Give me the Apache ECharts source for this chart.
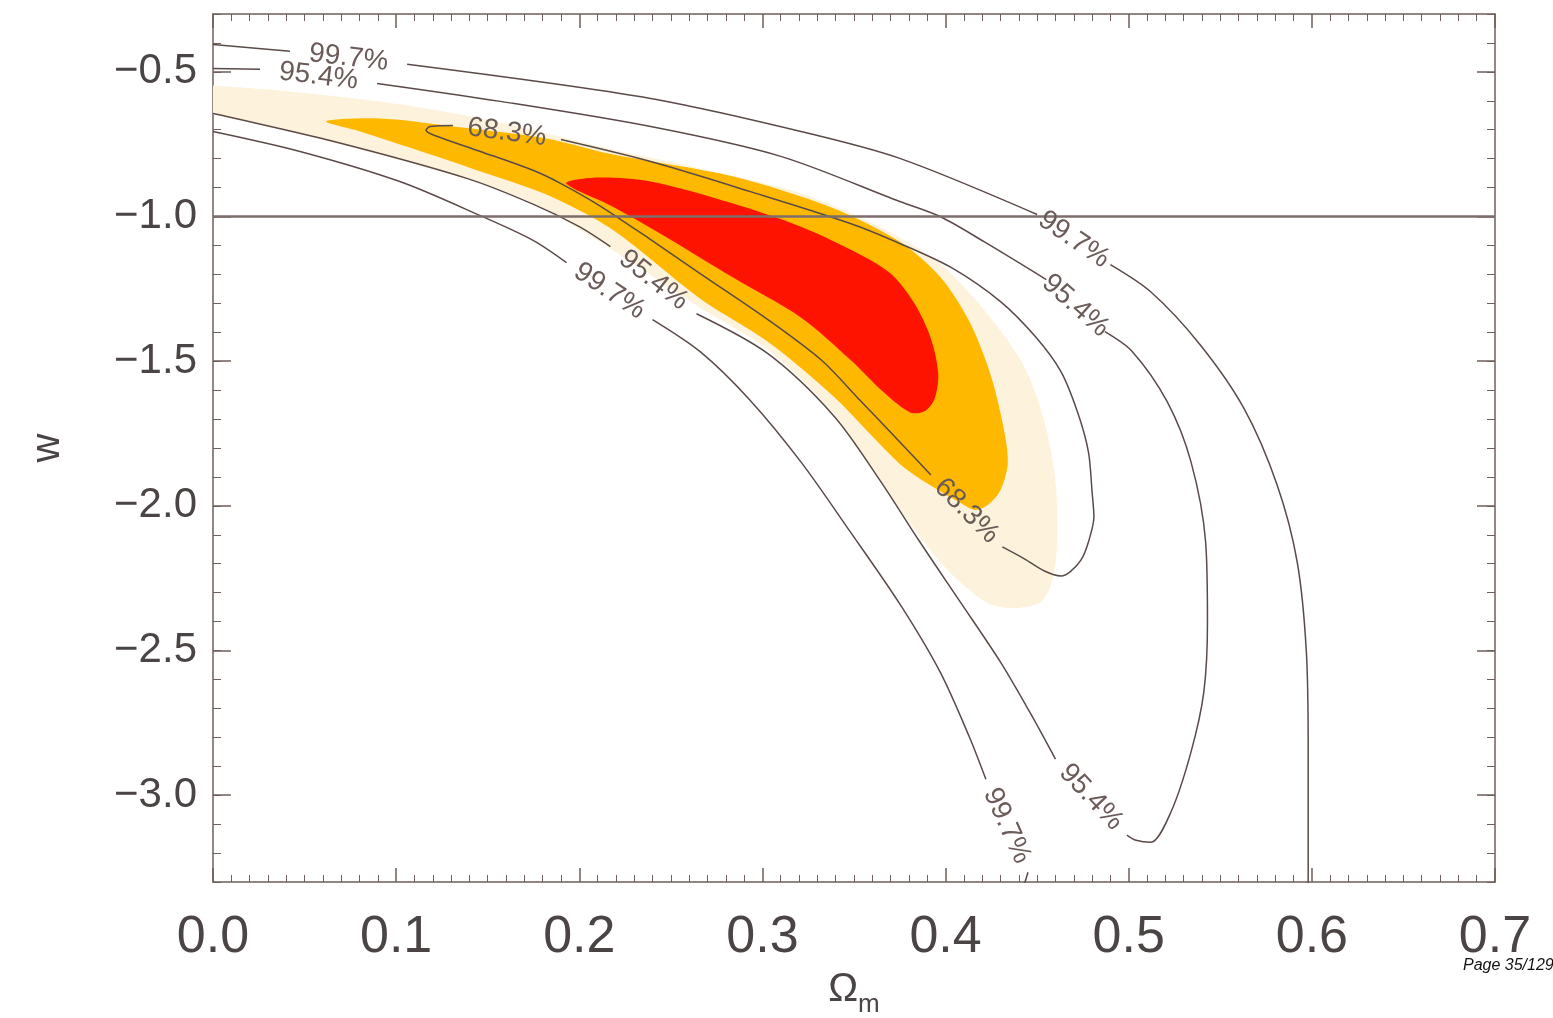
<!DOCTYPE html>
<html>
<head>
<meta charset="utf-8">
<title>w - Omega_m</title>
<script src="https://cdn.jsdelivr.net/npm/echarts@6/dist/echarts.min.js"></script>
<style>
    html, body {margin: 0; padding: 0; background: #fff;}
    #main {width: 1553px; height: 1018px;}
</style>
</head>
<body>
<div id="main"></div>
<script>
// tick values
var xTicks = [0, 0.1, 0.2, 0.3, 0.4, 0.5, 0.6, 0.7];
var yTicks = [-3.0, -2.5, -2.0, -1.5, -1.0, -0.5];

// filled confidence regions (outer -> inner)
var fill997 = [[-0.02, -0.54], [0, -0.547], [0.0475, -0.571], [0.102, -0.612], [0.157, -0.675], [0.211, -0.758],
    [0.266, -0.834], [0.321, -0.920], [0.364, -1.035], [0.397, -1.163], [0.424, -1.346], [0.443, -1.519],
    [0.454, -1.709], [0.460, -1.917], [0.461, -2.125], [0.458, -2.263], [0.452, -2.332], [0.438, -2.353],
    [0.424, -2.339], [0.411, -2.280], [0.397, -2.194], [0.378, -2.038], [0.359, -1.865], [0.339, -1.682],
    [0.303, -1.460], [0.266, -1.315], [0.217, -1.111], [0.175, -0.955], [0.139, -0.872], [0.0655, -0.744],
    [0, -0.647], [-0.02, -0.64]];
var fill954 = [[0.0617, -0.671], [0.0912, -0.661], [0.127, -0.685], [0.182, -0.730], [0.218, -0.785],
    [0.284, -0.862], [0.339, -0.972], [0.375, -1.087], [0.397, -1.208], [0.413, -1.363], [0.424, -1.536],
    [0.431, -1.709], [0.434, -1.848], [0.430, -1.945], [0.423, -1.997], [0.416, -2.014], [0.407, -1.986],
    [0.393, -1.934], [0.375, -1.855], [0.339, -1.623], [0.303, -1.433], [0.266, -1.284], [0.218, -1.045],
    [0.182, -0.924], [0.146, -0.844], [0.109, -0.765], [0.0803, -0.706]];
var fill683 = [[0.193, -0.882], [0.211, -0.865], [0.239, -0.879], [0.284, -0.955], [0.321, -1.035],
    [0.348, -1.114], [0.370, -1.197], [0.383, -1.301], [0.392, -1.422], [0.396, -1.543], [0.394, -1.630],
    [0.389, -1.671], [0.381, -1.678], [0.367, -1.612], [0.348, -1.495], [0.321, -1.349], [0.284, -1.211],
    [0.248, -1.073], [0.217, -0.962], [0.200, -0.913]];

// contour lines, cut into pieces where the labels sit
var line997Upper = [
    [[0, -0.405], [0.042, -0.429]],
    [[0.106, -0.474], [0.239, -0.592], [0.321, -0.706], [0.375, -0.799], [0.450, -0.993]],
    [[0.490, -1.166], [0.512, -1.260], [0.539, -1.443], [0.563, -1.664], [0.581, -1.927], [0.592, -2.194],
        [0.597, -2.505], [0.598, -2.851], [0.598, -3.308]]
];
var line997Lower = [
    [[0, -0.706], [0.0475, -0.775], [0.102, -0.879], [0.146, -0.997], [0.175, -1.083], [0.193, -1.159]],
    [[0.240, -1.356], [0.266, -1.467], [0.293, -1.633], [0.321, -1.848], [0.348, -2.090], [0.375, -2.339],
        [0.397, -2.574], [0.413, -2.799], [0.422, -2.945]],
    [[0.445, -3.266], [0.443, -3.308]]
];
var line954 = [
    [[0, -0.488], [0.0257, -0.491]],
    [[0.0896, -0.540], [0.157, -0.602], [0.239, -0.689], [0.310, -0.792], [0.375, -0.948], [0.397, -1.0],
        [0.421, -1.087], [0.455, -1.218]],
    [[0.487, -1.398], [0.502, -1.467], [0.521, -1.640], [0.534, -1.848], [0.542, -2.125], [0.543, -2.401],
        [0.541, -2.644], [0.534, -2.851], [0.523, -3.059], [0.512, -3.163], [0.504, -3.156], [0.499, -3.138]],
    [[0.460, -2.875], [0.446, -2.713], [0.430, -2.540], [0.408, -2.332], [0.386, -2.125], [0.364, -1.910],
        [0.339, -1.689], [0.303, -1.474], [0.264, -1.336]],
    [[0.217, -1.104], [0.200, -1.035], [0.175, -0.958], [0.139, -0.869], [0.0655, -0.740], [0, -0.644]]
];
var line683 = [
    [[0.190, -0.734], [0.239, -0.810], [0.293, -0.913], [0.348, -1.024], [0.375, -1.093], [0.403, -1.176],
        [0.430, -1.294], [0.449, -1.415], [0.463, -1.536], [0.472, -1.675], [0.478, -1.813], [0.480, -1.952],
        [0.481, -2.038], [0.478, -2.125], [0.474, -2.187], [0.468, -2.228], [0.463, -2.242], [0.454, -2.225],
        [0.443, -2.183], [0.431, -2.142]],
    [[0.392, -1.893], [0.375, -1.779], [0.353, -1.633], [0.332, -1.495], [0.303, -1.356], [0.266, -1.197],
        [0.239, -1.080], [0.211, -0.962], [0.190, -0.886], [0.175, -0.841], [0.146, -0.775], [0.121, -0.720],
        [0.1163, -0.702], [0.1185, -0.689], [0.131, -0.685]]
];
var wMinusOne = [[0, -1], [0.7, -1]];

var curves = [
    {text: '99.7%', segs: line997Upper, closed: false},
    {text: '99.7%', segs: line997Lower, closed: false},
    {text: '95.4%', segs: line954, closed: false},
    {text: '68.3%', segs: line683, closed: true}
];
var fills = [fill997, fill954, fill683];
var fillColors = ['#fdf3dc', '#ffb800', '#fe1200'];

var axisColor = '#6e5f5a';
var textColor = '#4b4444';

var series = [];
series.push({
    type: 'custom',
    silent: true,
    clip: true,
    z: 1,
    data: fills.map(function (f) { return f[1]; }),
    encode: {x: 0, y: 1},
    renderItem: function (params, api) {
        var pts = fills[params.dataIndex].map(function (p) { return api.coord(p); });
        return {
            type: 'polygon',
            shape: {points: pts, smooth: 0.3},
            style: {fill: fillColors[params.dataIndex]}
        };
    }
});

var labelGaps = [];
var labelTexts = [];
curves.forEach(function (c) {
    c.segs.forEach(function (s, i) {
        series.push({
            type: 'line', data: s, smooth: 0.3, symbol: 'none', silent: true, z: 2,
            lineStyle: {color: '#5b4b48', width: 1.5}
        });
        var next = c.segs[i + 1] || (c.closed ? c.segs[0] : null);
        if (next) {
            var a = s[s.length - 1], b = next[0];
            labelGaps.push([a[0], a[1], b[0], b[1]]);
            labelTexts.push(c.text);
        }
    });
});

series.push({
    type: 'line', data: wMinusOne, symbol: 'none', silent: true, z: 3,
    lineStyle: {color: '#7d6e6b', width: 2.5}
});

// contour labels sit in the gaps, turned along the line
series.push({
    type: 'custom',
    silent: true,
    z: 4,
    data: labelGaps,
    encode: {x: [0, 2], y: [1, 3]},
    renderItem: function (params, api) {
        var p = api.coord([api.value(0), api.value(1)]);
        var q = api.coord([api.value(2), api.value(3)]);
        var ang = Math.atan2(q[1] - p[1], q[0] - p[0]);
        if (Math.cos(ang) < 0) ang += Math.PI;
        return {
            type: 'text',
            x: (p[0] + q[0]) / 2,
            y: (p[1] + q[1]) / 2,
            rotation: -ang,
            style: {
                text: labelTexts[params.dataIndex],
                fontSize: 28, fontFamily: 'Liberation Sans',
                fill: '#6a5b58', align: 'center', verticalAlign: 'middle'
            }
        };
    }
});

function fmt(v) {
    return (v < 0 ? '\u2212' : '') + Math.abs(v).toFixed(1);
}

var lineStyle = {color: axisColor, width: 1.5};
var xBase = {
    type: 'value', min: 0, max: 0.7, interval: 0.1,
    axisLine: {onZero: false, lineStyle: lineStyle},
    axisTick: {inside: true, length: 14, lineStyle: lineStyle},
    minorTick: {show: true, splitNumber: 10, length: 7, lineStyle: {color: axisColor, width: 1}},
    splitLine: {show: false}
};
var yBase = {
    type: 'value', min: -3.3, max: -0.3,
    axisLine: {onZero: false, lineStyle: lineStyle},
    splitLine: {show: false}
};

var myChart = echarts.init(document.getElementById('main'));
var option = {
    animation: false,
    backgroundColor: '#fff',
    grid: {left: 213, right: 58, top: 14, bottom: 136, outerBoundsMode: 'none'},
    xAxis: [
        echarts.util.merge({
            position: 'bottom',
            axisLabel: {
                customValues: xTicks, fontSize: 52, color: textColor, margin: 30,
                fontFamily: 'Liberation Sans', formatter: function (v) { return v.toFixed(1); }
            },
            name: '\u03a9{m|m}', nameLocation: 'middle', nameGap: 80,
            nameTextStyle: {
                fontSize: 40, color: textColor, fontFamily: 'Liberation Sans',
                rich: {m: {fontSize: 26, color: textColor, verticalAlign: 'bottom', padding: [30, 0, 0, 0]}}
            }
        }, xBase, false),
        echarts.util.merge({position: 'top', axisLabel: {show: false}}, xBase, false)
    ],
    yAxis: [
        echarts.util.merge({
            position: 'left',
            axisTick: {inside: true, length: 18, customValues: yTicks, lineStyle: lineStyle},
            axisLabel: {
                customValues: yTicks, fontSize: 42, color: textColor, margin: 16,
                fontFamily: 'Liberation Sans', formatter: fmt
            },
            name: 'w', nameLocation: 'middle', nameGap: 145, nameRotate: 90,
            nameTextStyle: {fontSize: 40, color: textColor, fontFamily: 'Liberation Sans'}
        }, yBase, false),
        echarts.util.merge({
            position: 'left', interval: 0.1,
            axisLine: {show: false},
            axisTick: {inside: true, length: 8, lineStyle: {color: axisColor, width: 1}},
            axisLabel: {show: false}
        }, yBase, false),
        echarts.util.merge({
            position: 'right',
            axisTick: {inside: true, length: 18, customValues: yTicks, lineStyle: lineStyle},
            axisLabel: {show: false}
        }, yBase, false),
        echarts.util.merge({
            position: 'right', interval: 0.1,
            axisLine: {show: false},
            axisTick: {inside: true, length: 8, lineStyle: {color: axisColor, width: 1}},
            axisLabel: {show: false}
        }, yBase, false)
    ],
    graphic: [{
        type: 'text', left: 1463, top: 958,
        style: {text: 'Page 35/129', font: 'italic 16px "Liberation Sans"', fill: '#111'}
    }],
    series: series
};
myChart.setOption(option);
</script>
</body>
</html>
